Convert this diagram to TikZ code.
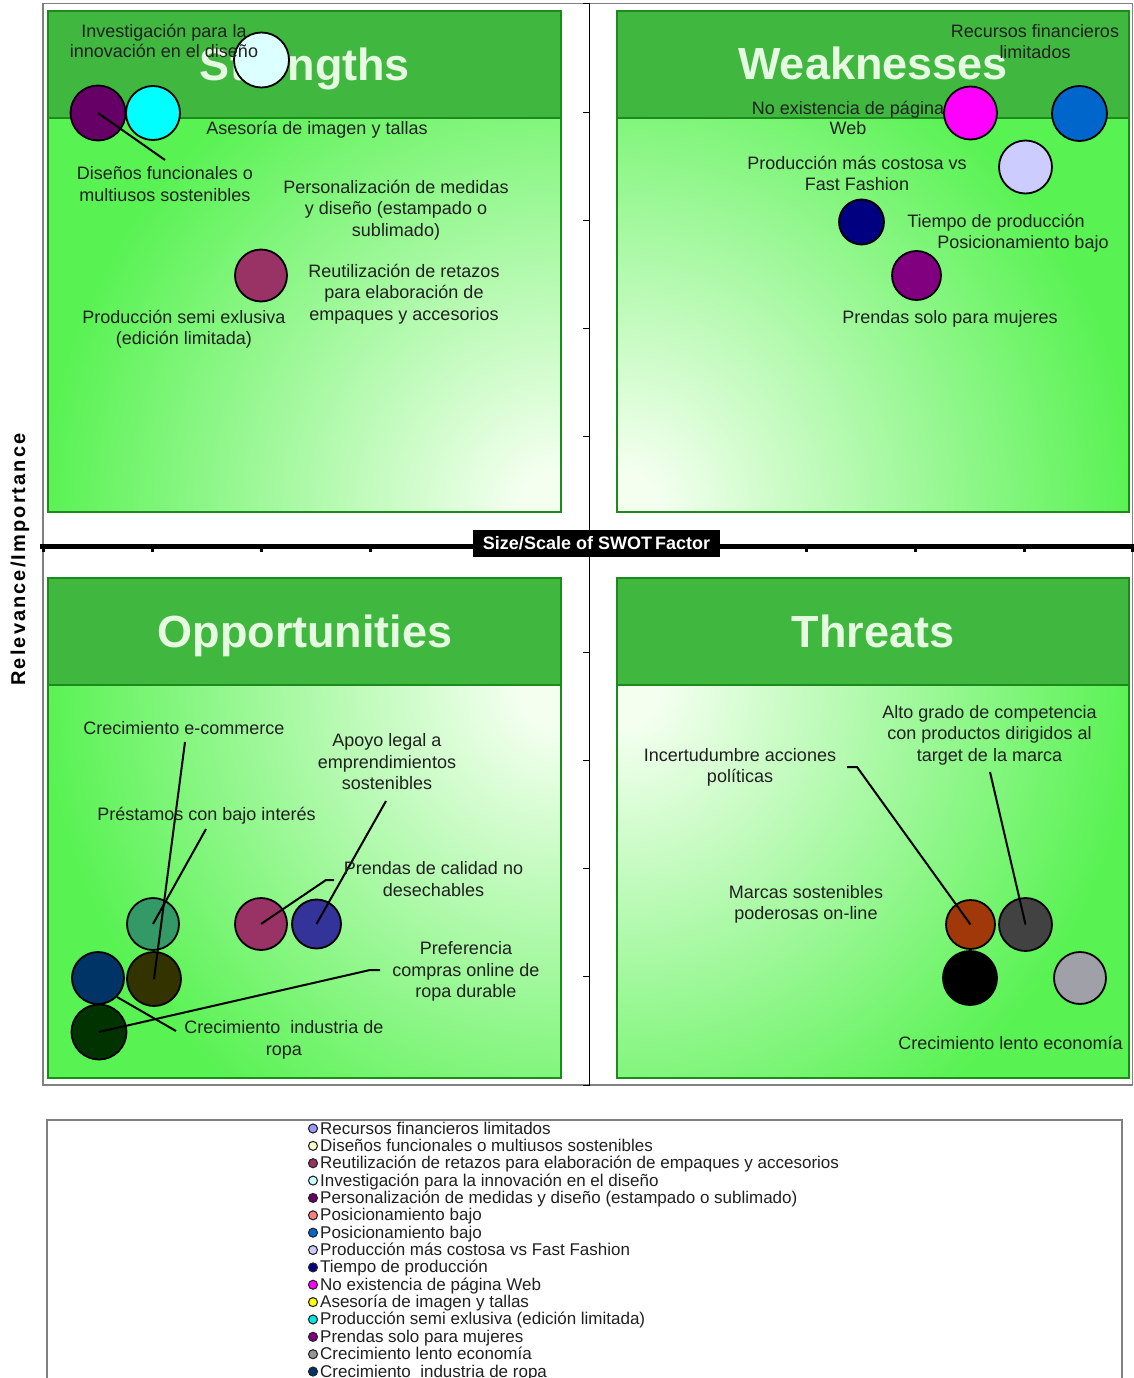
\documentclass[tikz,border=0pt]{standalone}
\usepackage{fontspec}
\setmainfont{Liberation Sans}
\newfontfamily\spacedfont{Liberation Sans}[LetterSpace=10.5]
\definecolor{hdr}{RGB}{64,184,64}
\definecolor{brd}{RGB}{28,138,28}
\definecolor{gr}{RGB}{88,242,82}
\definecolor{lt}{RGB}{244,255,240}
\definecolor{ttl}{RGB}{230,250,226}
\definecolor{txt}{RGB}{32,32,32}
\definecolor{frame}{RGB}{128,128,128}
\definecolor{cLtCyan}{RGB}{220,255,255}
\definecolor{cPurDk}{HTML}{660066}
\definecolor{cCyan}{HTML}{00FFFF}
\definecolor{cRasp}{HTML}{993366}
\definecolor{cMag}{HTML}{FF00FF}
\definecolor{cBlue}{HTML}{0066CC}
\definecolor{cLav}{HTML}{CCCCFF}
\definecolor{cNavy}{HTML}{000080}
\definecolor{cPur}{HTML}{800080}
\definecolor{cTeal}{HTML}{339966}
\definecolor{cDkBlue}{HTML}{003366}
\definecolor{cOlive}{HTML}{333300}
\definecolor{cDkGreen}{HTML}{003300}
\definecolor{cIndigo}{HTML}{333399}
\definecolor{cRust}{RGB}{160,56,10}
\definecolor{cDkGray}{HTML}{424242}
\definecolor{cGray}{HTML}{A0A0A8}
\definecolor{lgA}{HTML}{9999FF}
\definecolor{lgB}{HTML}{FFFFCC}
\definecolor{lgC}{HTML}{993366}
\definecolor{lgD}{HTML}{CCFFFF}
\definecolor{lgE}{HTML}{660066}
\definecolor{lgF}{HTML}{FF8080}
\definecolor{lgG}{HTML}{0066CC}
\definecolor{lgH}{HTML}{CCCCFF}
\definecolor{lgI}{HTML}{000080}
\definecolor{lgJ}{HTML}{FF00FF}
\definecolor{lgK}{HTML}{FFFF00}
\definecolor{lgL}{HTML}{00E6E6}
\definecolor{lgM}{HTML}{800080}
\definecolor{lgN}{HTML}{969696}
\definecolor{lgO}{HTML}{003366}
\pgfdeclareradialshading{swotrad}{\pgfpointorigin}{color(0bp)=(lt); color(2bp)=(lt); color(25bp)=(gr); color(50bp)=(gr)}
\tikzset{
  bub/.style={circle, draw=black, line width=1.8, inner sep=0},
  lead/.style={draw=black, line width=2},
  lab/.style={font=\fontsize{18}{21.5}\selectfont, text=txt, align=center, inner sep=0,
    execute at begin node=\strut, execute at end node=\strut},
  labtight/.style={lab, font=\fontsize{18}{20.5}\selectfont},
  ttlstyle/.style={font=\fontsize{45}{54}\selectfont\bfseries, text=ttl, anchor=base, inner sep=0},
  legmark/.style={circle, draw=black!85, line width=1.1, inner sep=0, minimum size=9},
  legtext/.style={font=\fontsize{17}{18}\selectfont, text=txt, inner sep=0, anchor=base west},
}
\begin{document}
\begin{tikzpicture}[x=1pt,y=-1pt]
\useasboundingbox (0,0) rectangle (1134,1378);
\fill[white] (0,0) rectangle (1134,1378);
% outer chart frame
\draw[frame, line width=1.2] (43,3.5) rectangle (1132.5,1085);
% ---- panels ----
% Strengths
\begin{scope}
\clip (48,118) rectangle (561,512);
\fill[gr] (48,118) rectangle (561,512);
\shade[shading=swotrad] (561,512) circle[radius=520];
\end{scope}
\fill[hdr] (48,11) rectangle (561,118);
\draw[brd, line width=2.5] (48,11) rectangle (561,512);
\draw[brd, line width=2.5] (48,118) -- (561,118);
% Weaknesses
\begin{scope}
\clip (617,118) rectangle (1129,512);
\fill[gr] (617,118) rectangle (1129,512);
\shade[shading=swotrad] (617,512) circle[radius=520];
\end{scope}
\fill[hdr] (617,11) rectangle (1129,118);
\draw[brd, line width=2.5] (617,11) rectangle (1129,512);
\draw[brd, line width=2.5] (617,118) -- (1129,118);
% Opportunities
\begin{scope}
\clip (48,685) rectangle (561,1078);
\fill[gr] (48,685) rectangle (561,1078);
\shade[shading=swotrad] (561,685) circle[radius=520];
\end{scope}
\fill[hdr] (48,578) rectangle (561,685);
\draw[brd, line width=2.5] (48,578) rectangle (561,1078);
\draw[brd, line width=2.5] (48,685) -- (561,685);
% Threats
\begin{scope}
\clip (617,685) rectangle (1129,1078);
\fill[gr] (617,685) rectangle (1129,1078);
\shade[shading=swotrad] (617,685) circle[radius=520];
\end{scope}
\fill[hdr] (617,578) rectangle (1129,685);
\draw[brd, line width=2.5] (617,578) rectangle (1129,1078);
\draw[brd, line width=2.5] (617,685) -- (1129,685);
% titles
\node[ttlstyle] (tS) at (305,81) {Strengths};
\node[ttlstyle] (tW) at (873,80) {Weaknesses};
\node[ttlstyle] (tO) at (305,647) {Opportunities};
\node[ttlstyle] (tT) at (873,647) {Threats};
% ---- axes ----
\draw[black, line width=1] (589.5,3) -- (589.5,1085);
\foreach \k in {0,...,10} \draw[black, line width=1] (583,{4+108.1*\k}) -- (589.5,{4+108.1*\k});
\draw[black, line width=5] (40,546) -- (1134,546);
\foreach \xx in {43,152,261,370,806,915,1024,1132} \draw[black, line width=3] (\xx,546) -- (\xx,552);
% ---- bubbles ----
\node[bub, fill=cPurDk, minimum size=55] (sPur) at (98,113) {};
\node[bub, fill=cCyan, minimum size=54] (sCya) at (153,113) {};
\node[bub, fill=cLtCyan, minimum size=55] (sInv) at (261.5,60) {};
\node[bub, fill=cRasp, minimum size=52] (sRas) at (261,275.5) {};
\node[bub, fill=cMag, minimum size=53] (wMag) at (970.5,113) {};
\node[bub, fill=cBlue, minimum size=55] (wBlu) at (1079.5,113.5) {};
\node[bub, fill=cLav, minimum size=53] (wLav) at (1025.5,167) {};
\node[bub, fill=cNavy, minimum size=45] (wNav) at (861.5,222) {};
\node[bub, fill=cPur, minimum size=49] (wPur) at (916.5,275.5) {};
\node[bub, fill=cTeal, minimum size=52] (oTeal) at (153,924) {};
\node[bub, fill=cDkBlue, minimum size=52] (oDB) at (98,978) {};
\node[bub, fill=cOlive, minimum size=54] (oOl) at (154,979) {};
\node[bub, fill=cDkGreen, minimum size=55] (oDG) at (99,1032) {};
\node[bub, fill=cRasp, minimum size=52] (oRas) at (261,924) {};
\node[bub, fill=cIndigo, minimum size=49] (oInd) at (316.5,924) {};
\node[bub, fill=cRust, minimum size=49] (tRust) at (970.5,924.5) {};
\node[bub, fill=cDkGray, minimum size=53] (tDg) at (1025.5,924.5) {};
\node[bub, fill=black, minimum size=54] (tBk) at (970,978) {};
\node[bub, fill=cGray, minimum size=52] (tGr) at (1080,978) {};
% ---- leader lines ----
\coordinate (eS3) at (165,160);
\coordinate (eO1) at (185,742);
\coordinate (eO3) at (206,829);
\coordinate (eO2) at (386,801);
\coordinate (eO4a) at (326,880);
\coordinate (eO4) at (334,880);
\coordinate (eO5a) at (370,970);
\coordinate (eO5) at (380,970);
\coordinate (eO6) at (176,1031);
\coordinate (eT2a) at (857,767);
\coordinate (eT2) at (847,767);
\coordinate (eT1) at (990,772);
\draw[lead] (sPur.center) -- (eS3);
\draw[lead] (oOl.center) -- (eO1);
\draw[lead] (oTeal.center) -- (eO3);
\draw[lead] (oInd.center) -- (eO2);
\draw[lead] (oRas.center) -- (eO4a) -- (eO4);
\draw[lead] (oDG.center) -- (eO5a) -- (eO5);
\draw[lead] (oDB.-45) -- (eO6);
\draw[lead] (tRust.center) -- (eT2a) -- (eT2);
\draw[lead] (tDg.center) -- (eT1);
% ---- labels ----
\node[labtight] (lS1) at (164,44) {Investigación para la\\innovación en el diseño};
\node[lab] (lS2) at (317,130) {Asesoría de imagen y tallas};
\node[lab] (lS3) at (165,187) {Diseños funcionales o\\multiusos sostenibles};
\node[lab] (lS4) at (396,211.5) {Personalización de medidas\\y diseño (estampado o\\sublimado)};
\node[lab] (lS5) at (404,295.5) {Reutilización de retazos\\para elaboración de\\empaques y accesorios};
\node[lab] (lS6) at (184,330.5) {Producción semi exlusiva\\(edición limitada)};
\node[lab] (lW1) at (1035,44.5) {Recursos financieros\\limitados};
\node[labtight] (lW2) at (848,121) {No existencia de página\\Web};
\node[lab] (lW3) at (857,176.5) {Producción más costosa vs\\Fast Fashion};
\node[lab] (lW4) at (996,223) {Tiempo de producción};
\node[lab] (lW5) at (1023,244) {Posicionamiento bajo};
\node[lab] (lW6) at (950,319) {Prendas solo para mujeres};
\node[lab] (lO1) at (184,730) {Crecimiento e-commerce};
\node[lab] (lO2) at (387,765) {Apoyo legal a\\emprendimientos\\sostenibles};
\node[lab] (lO3) at (206.5,816) {Préstamos con bajo interés};
\node[lab] (lO4) at (433.5,882) {Prendas de calidad no\\desechables};
\node[lab] (lO5) at (466,973) {Preferencia\\compras online de\\ropa durable};
\node[lab] (lO6) at (284,1041) {Crecimiento~ industria de\\ropa};
\node[lab] (lT1) at (989.5,736.5) {Alto grado de competencia\\con productos dirigidos al\\target de la marca};
\node[lab] (lT2) at (740,768.5) {Incertudumbre acciones\\políticas};
\node[lab] (lT3) at (806,905.5) {Marcas sostenibles\\poderosas on-line};
\node[lab] (lT4) at (1010.5,1045) {Crecimiento lento economía};
% ---- axis titles ----
\node[fill=black, text=white, font=\fontsize{18}{20}\selectfont\bfseries, minimum width=247, minimum height=27, inner sep=0] (xlab) at (596.5,543.5) {Size/Scale of SWOT\,Factor};
\node[rotate=90, anchor=base, inner sep=0, text=black, font=\fontsize{20}{23}\selectfont\spacedfont\bfseries] (ylab) at (25,559.5) {Relevance/Importance};
% ---- legend ----
\draw[frame, line width=1.2] (47,1378) -- (47,1120) -- (1122,1120) -- (1122,1378);
\foreach \i/\c/\t in {0/lgA/Recursos financieros limitados,
  1/lgB/Diseños funcionales o multiusos sostenibles,
  2/lgC/Reutilización de retazos para elaboración de empaques y accesorios,
  3/lgD/Investigación para la innovación en el diseño,
  4/lgE/Personalización de medidas y diseño (estampado o sublimado),
  5/lgF/Posicionamiento bajo,
  6/lgG/Posicionamiento bajo,
  7/lgH/Producción más costosa vs Fast Fashion,
  8/lgI/Tiempo de producción,
  9/lgJ/No existencia de página Web,
  10/lgK/Asesoría de imagen y tallas,
  11/lgL/Producción semi exlusiva (edición limitada),
  12/lgM/Prendas solo para mujeres,
  13/lgN/Crecimiento lento economía,
  14/lgO/Crecimiento~ industria de ropa}{
  \node[legmark, fill=\c] (m\i) at (313,{1128.5+17.36*\i}) {};
  \node[legtext] (g\i) at (320,{1134+17.36*\i}) {\t};
}
\end{tikzpicture}
\end{document}
